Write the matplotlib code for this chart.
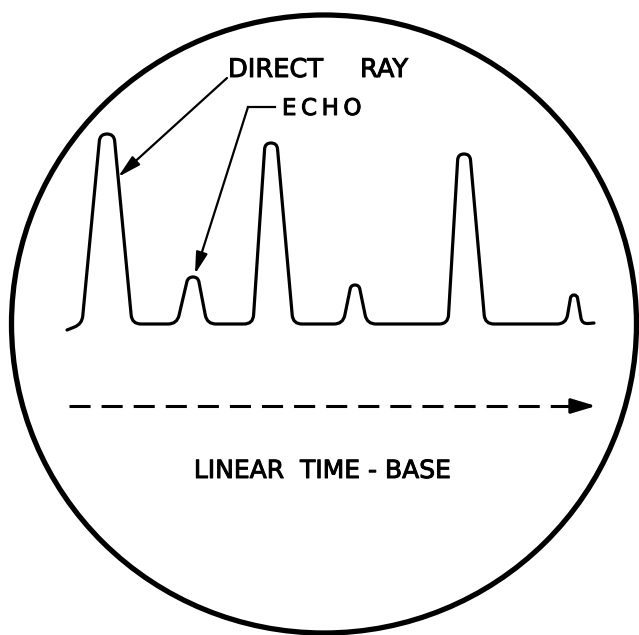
import numpy as np
import matplotlib.pyplot as plt
import matplotlib.patheffects as pe
from matplotlib.path import Path
from matplotlib.patches import PathPatch, Ellipse

# Oscilloscope trace in pixel units (y grows downward)
pulse_x = [107, 193, 271, 355, 464, 574]      # pulse centres
pulse_top = [134, 277, 143, 285, 154, 295]    # peak level
rise_w = [25, 16, 18, 12, 16, 8]              # base -> peak, left side
fall_w = [25, 14, 22, 12, 21, 8]              # peak -> base, right side
cap_w = [7, 5, 6, 4, 6, 3]                    # half width of the rounded top
base_y = 324
trace_start = (67, 330)
trace_end = (594, 323)

# Screen and labels
screen_centre = (324, 324)
screen_size = (625, 618)
timebase_x = [69, 596]
timebase_y = 406
direct_arrow = [(227, 78), (118, 177)]
echo_arrow = [(275, 107), (248, 107), (195, 274)]


def rounded_path(pts, r):
    pts = np.asarray(pts, dtype=float)
    verts = [pts[0]]
    codes = [Path.MOVETO]
    for i in range(1, len(pts) - 1):
        p0, p1, p2 = pts[i - 1], pts[i], pts[i + 1]
        d1 = p1 - p0
        d2 = p2 - p1
        l1 = np.hypot(*d1)
        l2 = np.hypot(*d2)
        rr = min(r, l1 / 2, l2 / 2)
        verts += [p1 - d1 / l1 * rr, p1, p1 + d2 / l2 * rr]
        codes += [Path.LINETO, Path.CURVE3, Path.CURVE3]
    verts.append(pts[-1])
    codes.append(Path.LINETO)
    return Path(verts, codes)


pts = [trace_start]
for x, top, rw, fw, cw in zip(pulse_x, pulse_top, rise_w, fall_w, cap_w):
    pts += [(x - rw, base_y), (x - cw, top), (x + cw, top), (x + fw, base_y)]
pts.append(trace_end)

fig = plt.figure(figsize=(6.39, 6.35), dpi=100)
ax = fig.add_axes([0, 0, 1, 1])
ax.set_xlim(0, 639)
ax.set_ylim(635, 0)
ax.axis('off')

# CRT face
ax.add_patch(Ellipse(screen_centre, screen_size[0], screen_size[1],
                     fill=False, lw=3.8, color='black'))

# trace
ax.add_patch(PathPatch(rounded_path(pts, 9), fill=False, lw=2.3,
                       color='black', capstyle='round', joinstyle='round'))

# pointers
ax.annotate('', xy=direct_arrow[1], xytext=direct_arrow[0],
            arrowprops=dict(arrowstyle='-|>,head_length=1.4,head_width=0.35',
                            lw=1.6, color='black', shrinkA=0, shrinkB=0))
ax.plot([p[0] for p in echo_arrow[:2]], [p[1] for p in echo_arrow[:2]],
        color='black', lw=1.6)
ax.annotate('', xy=echo_arrow[2], xytext=echo_arrow[1],
            arrowprops=dict(arrowstyle='-|>,head_length=1.3,head_width=0.35',
                            lw=1.6, color='black', shrinkA=0, shrinkB=0))

# time-base arrow
ax.plot([timebase_x[0], timebase_x[1] - 20], [timebase_y, timebase_y],
        color='black', lw=2.2, dashes=(6.9, 3.6))
ax.annotate('', xy=(timebase_x[1], timebase_y),
            xytext=(timebase_x[1] - 24, timebase_y),
            arrowprops=dict(arrowstyle='-|>,head_length=1.5,head_width=0.45',
                            lw=2.2, color='black', shrinkA=0, shrinkB=0))

# labels (hand lettering is a bit heavier than DejaVu regular)
heavy = [pe.withStroke(linewidth=0.7, foreground='black')]
ax.text(228, 77, 'DIRECT', fontsize=18.5, ha='left', va='baseline',
        path_effects=heavy)
ax.text(360, 77, 'RAY', fontsize=18.5, ha='left', va='baseline',
        path_effects=heavy)
ax.text(282, 115, 'E\u2009C\u2009H\u2009O', fontsize=16.5, ha='left',
        va='baseline', path_effects=heavy)
ax.text(323, 478, 'LINEAR  TIME - BASE', fontsize=18, ha='center',
        va='baseline', path_effects=heavy)

plt.savefig('out.png', dpi=100, facecolor='white')
